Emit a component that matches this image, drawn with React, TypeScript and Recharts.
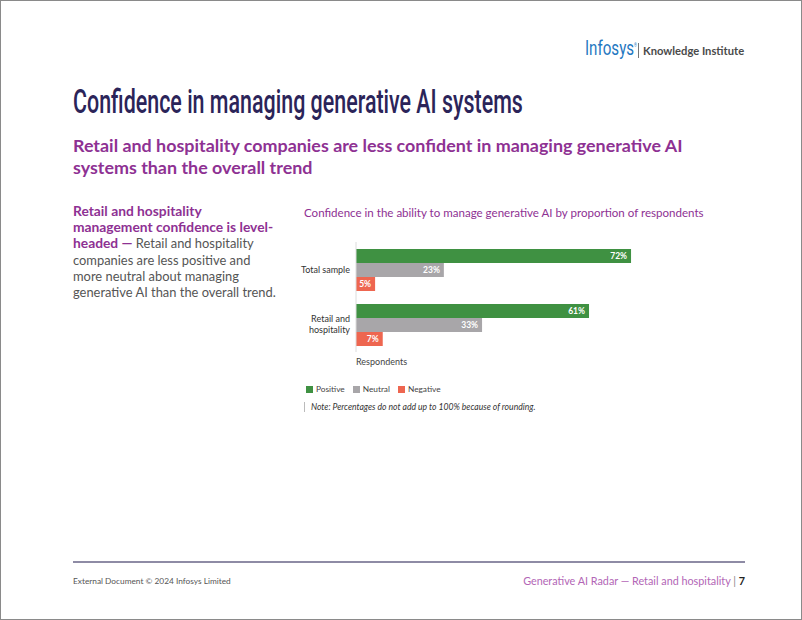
import React from 'react';
import { BarChart, Bar, XAxis, YAxis, LabelList } from 'recharts';

const categories = ['Total sample', 'Retail and hospitality'];
const positive = [72, 61];
const neutral = [23, 33];
const negative = [5, 7];

const series = [
  { key: 'positive', name: 'Positive', color: '#3f9142' },
  { key: 'neutral', name: 'Neutral', color: '#a8a6a9' },
  { key: 'negative', name: 'Negative', color: '#ee6650' },
];

const data = categories.map((name, i) => ({
  name,
  positive: positive[i],
  neutral: neutral[i],
  negative: negative[i],
}));

const PURPLE = '#8e3193';
const FONT = 'Lato, "Open Sans", sans-serif';

const CategoryTick = (props: any) => {
  const { x, y, payload } = props;
  const words: string[] = payload.value === 'Retail and hospitality' ? ['Retail and', 'hospitality'] : [payload.value];
  const start = y - ((words.length - 1) * 11) / 2 + 3;
  return (
    <text x={x} y={start} textAnchor="end" fontSize={9} fill="#333" fontFamily={FONT}>
      {words.map((w, i) => (
        <tspan key={w} x={x} dy={i === 0 ? 0 : 11}>{w}</tspan>
      ))}
    </text>
  );
};

const abs = (top: number, left: number, extra: React.CSSProperties = {}): React.CSSProperties => ({
  position: 'absolute',
  top,
  left,
  whiteSpace: 'nowrap',
  ...extra,
});

export default function App() {
  return (
    <div
      style={{
        position: 'absolute',
        top: 0,
        left: 0,
        width: 802,
        height: 620,
        boxSizing: 'border-box',
        border: '1px solid #8a8a8a',
        background: '#fff',
        fontFamily: FONT,
        overflow: 'hidden',
      }}
    >
      {/* header logo */}
      <div style={abs(35, 584, { fontFamily: 'Roboto, sans-serif', fontSize: 21, color: '#1f78c1', transform: 'scaleX(0.72)', transformOrigin: 'left' })}>
        Infosys<sup style={{ fontSize: 5 }}>®</sup>
      </div>
      <div style={abs(42, 637, { width: 1, height: 15, background: '#777' })} />
      <div style={abs(43, 642, { fontSize: 11.2, fontWeight: 700, color: '#4a4a4a' })}>Knowledge Institute</div>

      {/* heading */}
      <div style={abs(81, 72, { fontFamily: 'Roboto, sans-serif', fontSize: 33.5, fontWeight: 500, color: '#2b2459', transform: 'scaleX(0.64)', transformOrigin: 'left' })}>
        Confidence in managing generative AI systems
      </div>
      <div style={abs(133, 72, { fontSize: 17.9, fontWeight: 700, color: PURPLE, lineHeight: '22px' })}>
        Retail and hospitality companies are less confident in managing generative AI
        <br />
        systems than the overall trend
      </div>

      {/* side text */}
      <div style={abs(202, 72, { fontSize: 12.9, lineHeight: '16.2px', color: '#555' })}>
        <span style={{ color: PURPLE, fontWeight: 700, fontSize: 13.8 }}>
          Retail and hospitality
          <br />
          management confidence is level-
          <br />
          headed —
        </span>{' '}
        Retail and hospitality
        <br />
        companies are less positive and
        <br />
        more neutral about managing
        <br />
        generative AI than the overall trend.
      </div>

      {/* chart title */}
      <div style={abs(205, 303, { fontSize: 11.55, color: PURPLE })}>
        Confidence in the ability to manage generative AI by proportion of respondents
      </div>

      <div style={abs(233, 253)}>
        <BarChart
          width={484}
          height={120}
          data={data}
          layout="vertical"
          barGap={0}
          margin={{ top: 8, right: 0, bottom: 2, left: 0 }}
        >
          <XAxis type="number" domain={[0, 100]} hide />
          <YAxis
            type="category"
            dataKey="name"
            width={102}
            axisLine={{ stroke: '#dcdcdc' }}
            tickLine={false}
            tickMargin={0}
            tick={<CategoryTick />}
          />
          {series.map((s) => (
            <Bar key={s.key} dataKey={s.key} name={s.name} fill={s.color} barSize={14} isAnimationActive={false}>
              <LabelList
                dataKey={s.key}
                position="insideRight"
                offset={4}
                fill="#fff"
                fontSize={8.5}
                fontWeight={700}
                fontFamily={FONT}
                formatter={(v: any) => `${v}%`}
              />
            </Bar>
          ))}
        </BarChart>
      </div>

      <div style={abs(355, 355, { fontSize: 9, color: '#444' })}>Respondents</div>

      {/* legend */}
      <div style={abs(383, 305, { display: 'flex', gap: 8, fontSize: 8.3, color: '#444', alignItems: 'center' })}>
        {series.map((s) => (
          <div key={s.key} style={{ display: 'flex', alignItems: 'center', gap: 3 }}>
            <span style={{ width: 7, height: 7, background: s.color, display: 'inline-block' }} />
            {s.name}
          </div>
        ))}
      </div>

      <div style={abs(401, 303, { display: 'flex', alignItems: 'center', gap: 6, fontSize: 8.6, fontStyle: 'italic', color: '#333' })}>
        <span style={{ width: 1, height: 10, background: '#bbb', display: 'inline-block' }} />
        Note: Percentages do not add up to 100% because of rounding.
      </div>

      {/* footer */}
      <div style={abs(560, 72, { width: 672, height: 1.5, background: '#8e8ba5' })} />
      <div style={abs(575, 72, { fontSize: 8.3, color: '#555' })}>External Document © 2024 Infosys Limited</div>
      <div style={abs(573, 520, { width: 224, textAlign: 'right', fontSize: 10.8, color: '#b266b6' })}>
        Generative AI Radar — Retail and hospitality{' '}
        <span style={{ color: '#888' }}>|</span>{' '}
        <span style={{ color: '#222', fontWeight: 700 }}>7</span>
      </div>
    </div>
  );
}
